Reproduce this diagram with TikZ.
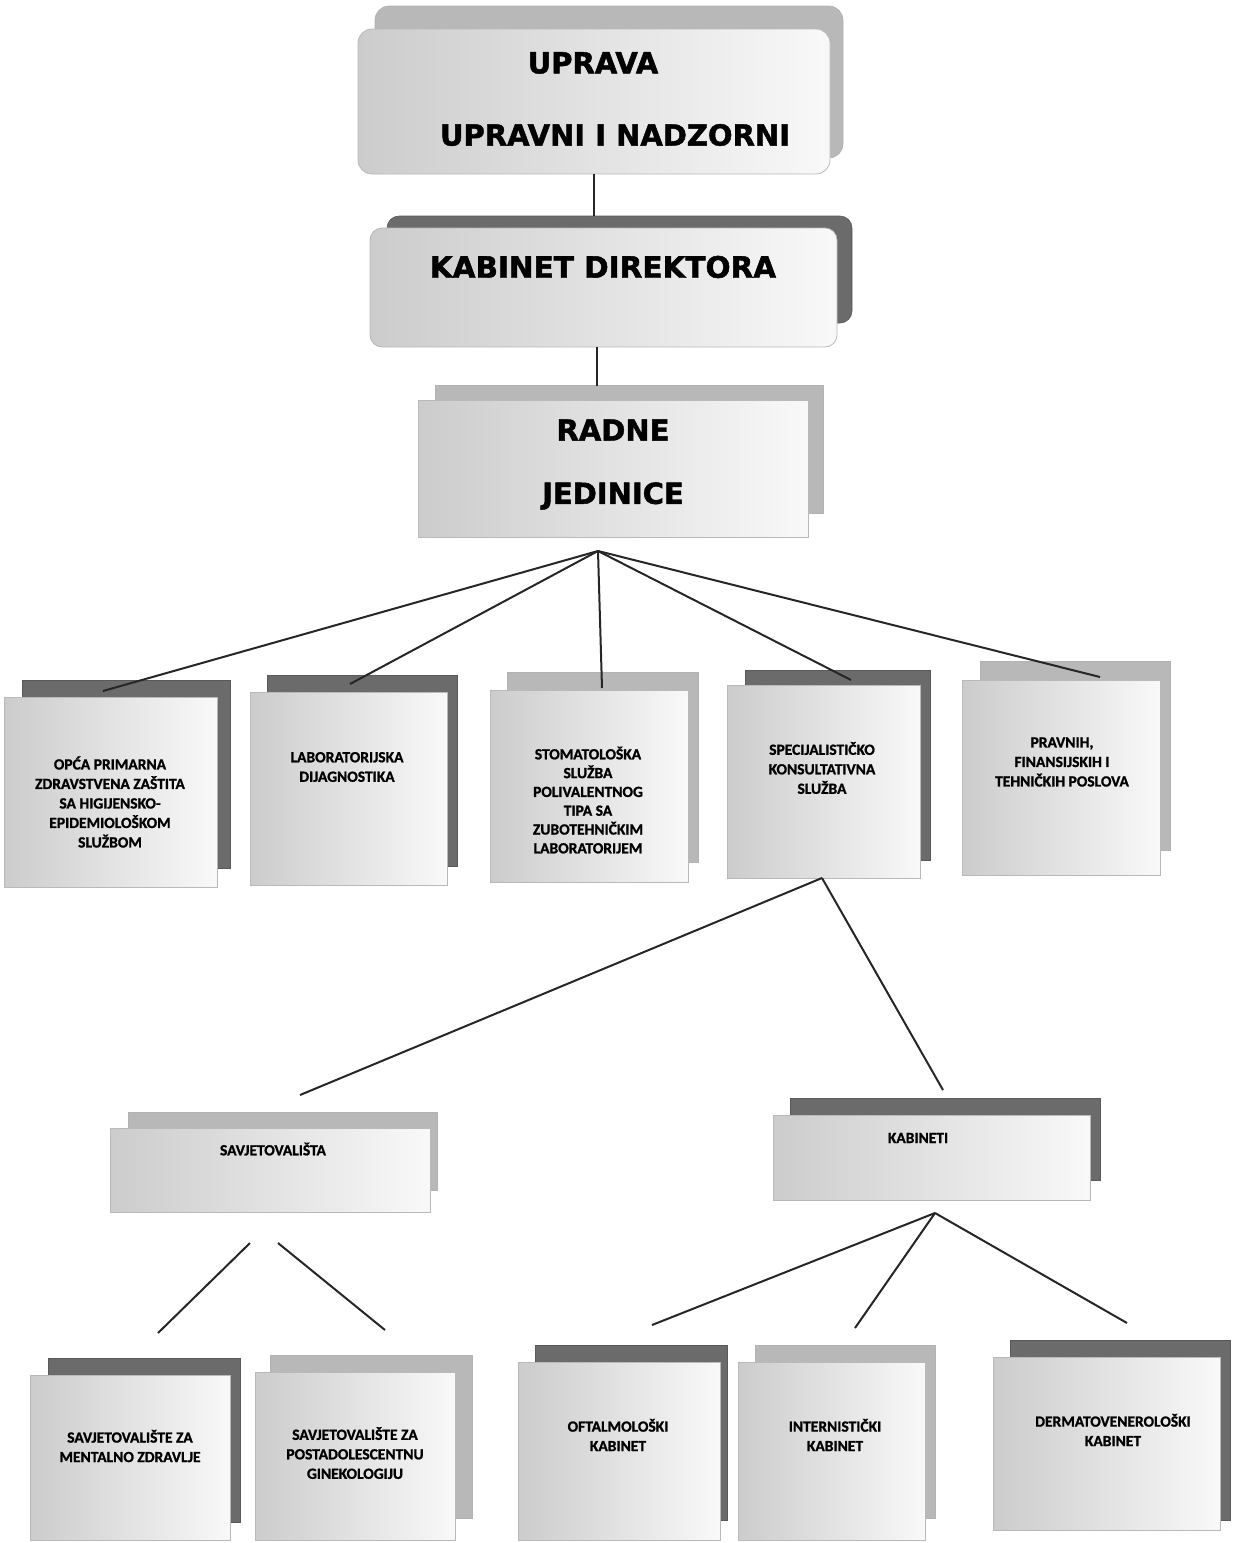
\documentclass[tikz,border=0pt]{standalone}
\usepackage{fontspec}
\newfontfamily\titlefont{DejaVu Sans}[BoldFeatures={FakeBold=1.6}]
\newfontfamily\boxfont{Carlito}[BoldFeatures={FakeBold=1.2}]
\usetikzlibrary{fit}
\begin{document}
\begin{tikzpicture}[x=1pt,y=-1pt,
  frontbox/.style={draw=gray!55, line width=0.8pt, inner sep=0pt, left color=gray!40, right color=gray!5},
  backdark/.style={draw=gray!70!black, line width=0.6pt, fill=black!58, inner sep=0pt},
  backlight/.style={draw=gray!60, line width=0.6pt, fill=black!28, inner sep=0pt},
  bigtxt/.style={font=\titlefont\bfseries\fontsize{29}{36}\selectfont, inner sep=0pt},
  stxt/.style={font=\boxfont\bfseries\fontsize{15.5}{19.5}\selectfont, align=center, inner sep=0pt},
  conn/.style={draw=black!85, line width=2pt}
]
\useasboundingbox (0,0) rectangle (1239,1543);

% ---------- UPRAVA ----------
\node[backlight, rounded corners=14pt, fit={(375,6) (843,158)}] (uprB) {};
\node[frontbox, rounded corners=14pt, fit={(358,29) (830,174)}] (upr) {};
\node[bigtxt] (uprT1) at (593,63) {UPRAVA};
\node[bigtxt] (uprT2) at (615,135) {UPRAVNI I NADZORNI};

% ---------- KABINET DIREKTORA ----------
\node[backdark, rounded corners=12pt, fit={(387,216) (852,323)}] (kabB) {};
\node[frontbox, rounded corners=12pt, fit={(370,228) (837,347)}] (kab) {};
\node[bigtxt, font=\titlefont\bfseries\fontsize{29.5}{36}\selectfont] (kabT) at (603,267) {KABINET DIREKTORA};

% ---------- RADNE JEDINICE ----------
\node[backlight, fit={(435,385) (823,513)}] (radB) {};
\node[frontbox, fit={(418,400) (808,537)}] (rad) {};
\node[bigtxt] (radT1) at (613,430) {RADNE};
\node[bigtxt] (radT2) at (613,496) {JEDINICE};

% ---------- row 1 ----------
\node[backdark, fit={(22,680) (230,868)}] (b1B) {};
\node[frontbox, fit={(4,697) (217,887)}] (b1) {};
\node[stxt] (b1T) at (110,802) {OPĆA PRIMARNA\\ZDRAVSTVENA ZAŠTITA\\SA HIGIJENSKO-\\EPIDEMIOLOŠKOM\\SLUŽBOM};

\node[backdark, fit={(267,675) (457,866)}] (b2B) {};
\node[frontbox, fit={(250,692) (447,885)}] (b2) {};
\node[stxt] (b2T) at (347,767) {LABORATORIJSKA\\DIJAGNOSTIKA};

\node[backlight, fit={(507,672) (698,862)}] (b3B) {};
\node[frontbox, fit={(490,690) (688,882)}] (b3) {};
\node[stxt, font=\boxfont\bfseries\fontsize{15.5}{18.8}\selectfont] (b3T) at (588,800) {STOMATOLOŠKA\\SLUŽBA\\POLIVALENTNOG\\TIPA SA\\ZUBOTEHNIČKIM\\LABORATORIJEM};

\node[backdark, fit={(745,670) (930,860)}] (b4B) {};
\node[frontbox, fit={(727,685) (920,878)}] (b4) {};
\node[stxt] (b4T) at (822,768) {SPECIJALISTIČKO\\KONSULTATIVNA\\SLUŽBA};

\node[backlight, fit={(980,661) (1170,850)}] (b5B) {};
\node[frontbox, fit={(962,680) (1160,875)}] (b5) {};
\node[stxt] (b5T) at (1062,762) {PRAVNIH,\\FINANSIJSKIH I\\TEHNIČKIH POSLOVA};

% ---------- row 2 ----------
\node[backlight, fit={(128,1112) (437,1190)}] (savB) {};
\node[frontbox, fit={(110,1128) (430,1212)}] (sav) {};
\node[stxt] (savT) at (273,1149) {SAVJETOVALIŠTA};

\node[backdark, fit={(790,1098) (1100,1180)}] (kbnB) {};
\node[frontbox, fit={(773,1115) (1090,1200)}] (kbn) {};
\node[stxt] (kbnT) at (918,1138) {KABINETI};

% ---------- row 3 ----------
\node[backdark, fit={(48,1358) (240,1522)}] (c1B) {};
\node[frontbox, fit={(30,1375) (230,1540)}] (c1) {};
\node[stxt] (c1T) at (130,1446) {SAVJETOVALIŠTE ZA\\MENTALNO ZDRAVLJE};

\node[backlight, fit={(270,1355) (472,1518)}] (c2B) {};
\node[frontbox, fit={(255,1372) (455,1540)}] (c2) {};
\node[stxt] (c2T) at (355,1453) {SAVJETOVALIŠTE ZA\\POSTADOLESCENTNU\\GINEKOLOGIJU};

\node[backdark, fit={(535,1345) (727,1520)}] (c3B) {};
\node[frontbox, fit={(518,1362) (720,1540)}] (c3) {};
\node[stxt] (c3T) at (618,1435) {OFTALMOLOŠKI\\KABINET};

\node[backlight, fit={(755,1345) (935,1518)}] (c4B) {};
\node[frontbox, fit={(738,1362) (925,1540)}] (c4) {};
\node[stxt] (c4T) at (835,1435) {INTERNISTIČKI\\KABINET};

\node[backdark, fit={(1010,1340) (1230,1520)}] (c5B) {};
\node[frontbox, fit={(993,1357) (1220,1530)}] (c5) {};
\node[stxt] (c5T) at (1113,1430) {DERMATOVENEROLOŠKI\\KABINET};

% ---------- connectors ----------
\draw[conn] (upr.south) -- (upr.south |- kabB.north);
\coordinate (kabOut) at (597,347);
\coordinate (radIn) at (597,386);
\draw[conn] (kabOut) -- (radIn);

\coordinate (rj) at (598,551);
\coordinate (e1) at (103,691);
\coordinate (e2) at (350,684);
\coordinate (e3) at (602,688);
\coordinate (e4) at (851,680);
\coordinate (e5) at (1100,677);
\foreach \e in {e1,e2,e3,e4,e5} \draw[conn] (rj) -- (\e);

\coordinate (sk) at (822,878);
\coordinate (f1) at (300,1095);
\coordinate (f2) at (943,1090);
\draw[conn] (sk) -- (f1);
\draw[conn] (sk) -- (f2);

\coordinate (s1) at (250,1243);
\coordinate (s2) at (278,1243);
\coordinate (g1) at (158,1333);
\coordinate (g2) at (385,1330);
\draw[conn] (s1) -- (g1);
\draw[conn] (s2) -- (g2);

\coordinate (k0) at (935,1213);
\coordinate (h1) at (652,1325);
\coordinate (h2) at (855,1328);
\coordinate (h3) at (1127,1323);
\draw[conn] (k0) -- (h1);
\draw[conn] (k0) -- (h2);
\draw[conn] (k0) -- (h3);
\end{tikzpicture}
\end{document}
